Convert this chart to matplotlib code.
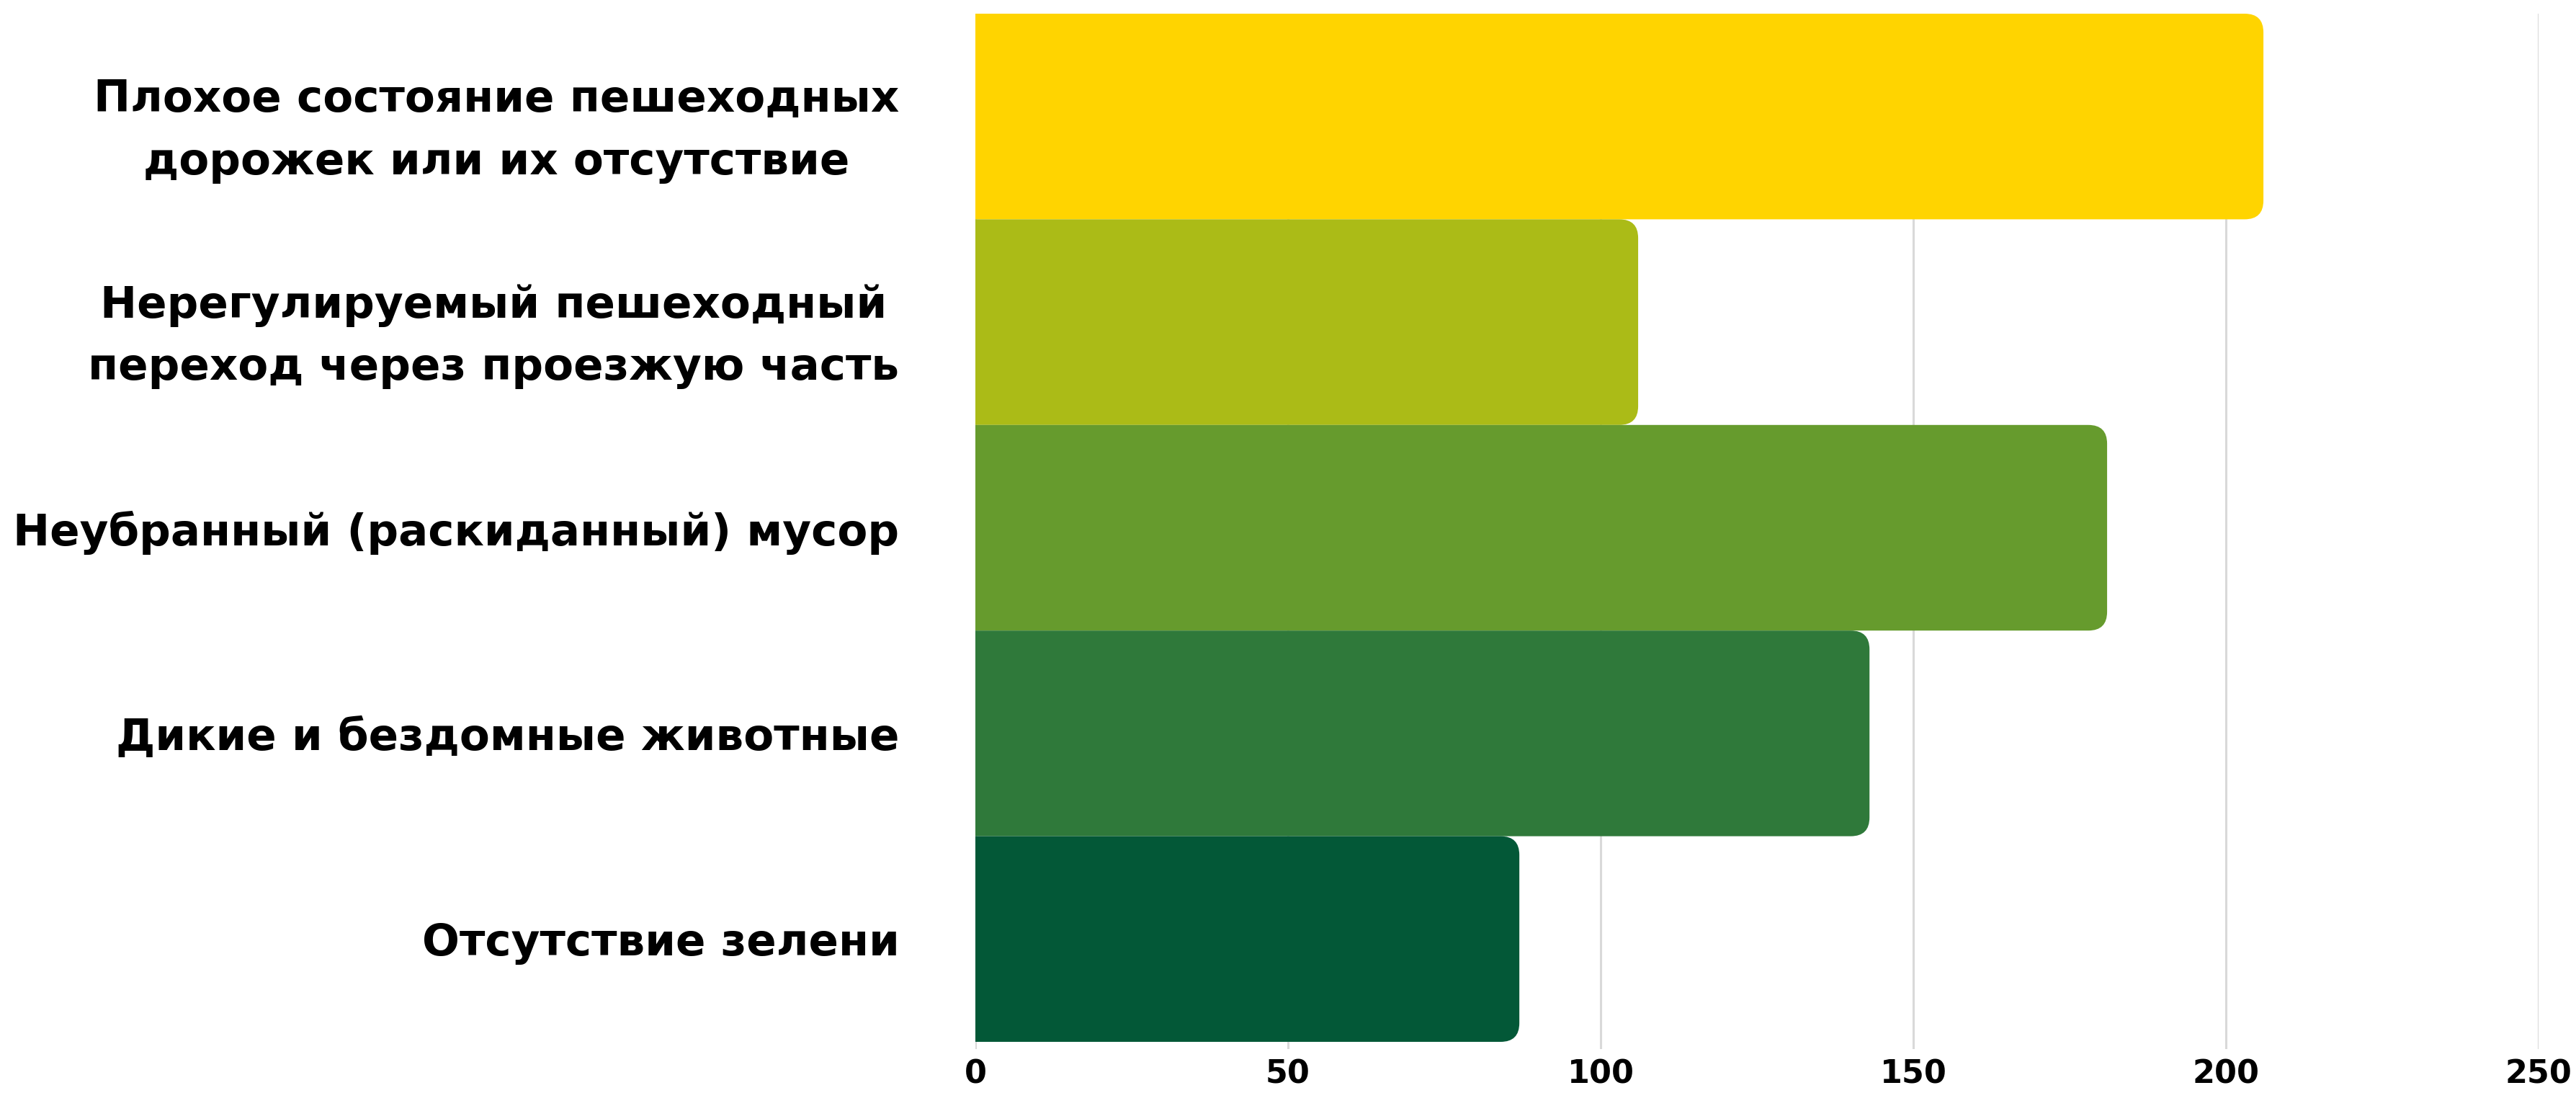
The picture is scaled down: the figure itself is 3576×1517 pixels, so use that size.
import matplotlib
matplotlib.use("Agg")
import matplotlib.pyplot as plt
from matplotlib.path import Path
from matplotlib.patches import PathPatch

categories = [
    "Плохое состояние пешеходных\nдорожек или их отсутствие",
    "Нерегулируемый пешеходный\nпереход через проезжую часть",
    "Неубранный (раскиданный) мусор",
    "Дикие и бездомные животные",
    "Отсутствие зелени",
]
values = [206, 106, 181, 143, 87]
colors = ["#FFD400", "#ABBB17", "#669B2D", "#2F793A", "#035837"]
xticks = [0, 50, 100, 150, 200, 250]

W, H, DPI = 3576, 1517, 200
fig = plt.figure(figsize=(W / DPI, H / DPI), dpi=DPI)
left_px, right_px, top_px, bot_px = 1354, 3524, 19, 1456
ax = fig.add_axes([left_px / W, 1 - bot_px / H, (right_px - left_px) / W, (bot_px - top_px) / H])

ypos = list(range(len(categories)))
bars = ax.barh(ypos, values, height=1.0, color=colors)
ax.set_xlim(0, 250)
span = (bot_px - top_px) / 285.4
ax.set_ylim(-0.5 + span, -0.5)

# rounded right corners
px_per_x = (right_px - left_px) / 250.0
px_per_y = 285.4
r_px = 26
rx = r_px / px_per_x
ry = r_px / px_per_y
for b in bars:
    x0 = b.get_x(); w = b.get_width(); y0 = b.get_y(); h = b.get_height()
    x1 = x0 + w; y1 = y0 + h
    verts = [(x0, y0), (x1 - rx, y0), (x1, y0), (x1, y0 + ry),
             (x1, y1 - ry), (x1, y1), (x1 - rx, y1), (x0, y1), (x0, y0)]
    codes = [Path.MOVETO, Path.LINETO, Path.CURVE3, Path.CURVE3,
             Path.LINETO, Path.CURVE3, Path.CURVE3, Path.LINETO, Path.CLOSEPOLY]
    p = PathPatch(Path(verts, codes), facecolor=b.get_facecolor(), edgecolor="none", zorder=3)
    ax.add_patch(p)
    b.set_visible(False)

ax.set_xticks(xticks)
ax.set_xticklabels([str(t) for t in xticks], fontsize=16, fontweight="bold", family="DejaVu Sans")
ax.set_yticks(ypos)
ax.set_yticklabels(categories, fontsize=22, fontweight="bold", family="DejaVu Sans",
                   multialignment="center", linespacing=1.6)
ax.tick_params(axis="y", length=0, pad=38)
ax.tick_params(axis="x", length=0, pad=5)
ax.grid(axis="x", color="#d9d9d9", linewidth=1.1, zorder=0)
ax.set_axisbelow(True)
for s in ax.spines.values():
    s.set_visible(False)

fig.savefig("out.png", dpi=DPI, facecolor="white")
